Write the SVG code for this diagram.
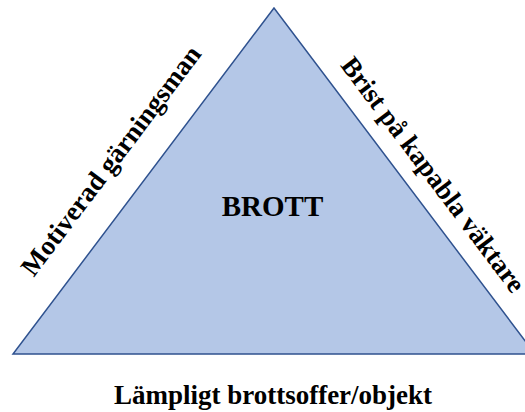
<svg xmlns="http://www.w3.org/2000/svg" width="525" height="412" viewBox="0 0 525 412">
<style>
.lbl{font-family:"Liberation Serif","Times New Roman",serif;font-weight:bold;fill:#000;text-anchor:middle}
</style>
<rect width="525" height="412" fill="#fff"/>
<g id="triangle">
<polygon points="274,8 13,354 535,354" fill="#B4C7E7" stroke="#2F528F" stroke-width="1.5"/>
<text class="lbl" x="272.5" y="215.7" font-size="29">BROTT</text>
</g>
<g id="left-label">
<text class="lbl" font-size="27" transform="translate(118,166) rotate(-53)">Motiverad gärningsman</text>
</g>
<g id="right-label">
<text class="lbl" font-size="27" transform="translate(426,180) rotate(53)">Brist på kapabla väktare</text>
</g>
<g id="bottom-label">
<text class="lbl" x="273" y="404" font-size="27">Lämpligt brottsoffer/objekt</text>
</g>
<g id="connectors"></g>
</svg>
